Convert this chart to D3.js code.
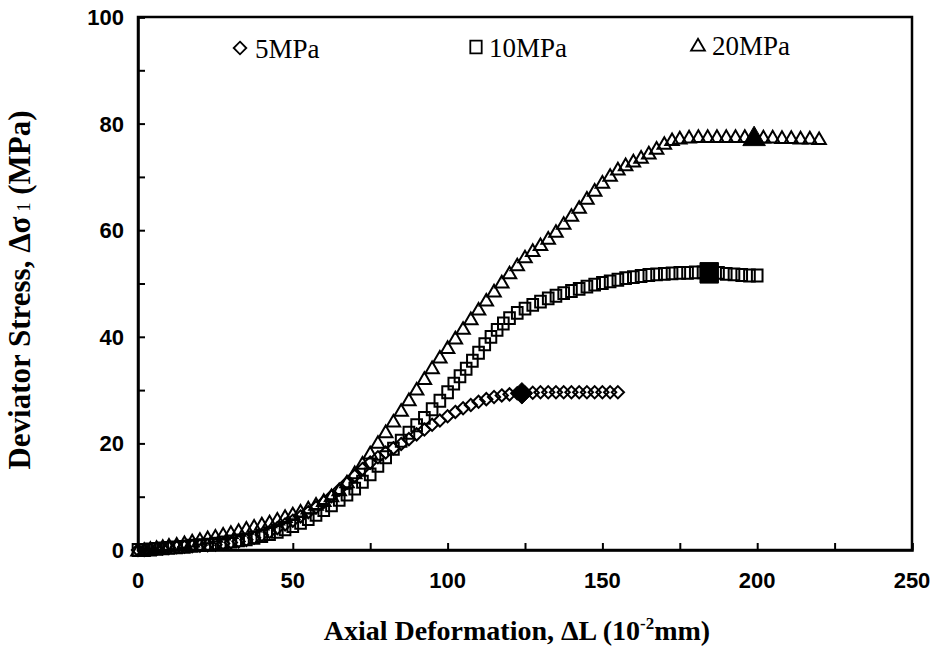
<!DOCTYPE html>
<html>
<head>
<meta charset="utf-8">
<script src="https://cdn.jsdelivr.net/npm/d3@7/dist/d3.min.js"></script>
<style>
  html, body { margin: 0; padding: 0; background: #fff; }
  svg { display: block; }
</style>
</head>
<body>
<svg id="chart" width="945" height="650"></svg>
<script>
// ---------------- data ----------------
const seriesNames = ["5MPa", "10MPa", "20MPa"];

// 5 MPa confining pressure: [axial deformation (1e-2 mm), deviator stress (MPa)]
const data5 = [
  [0,0],[2,0],[4,0.1],[6,0.2],[8,0.3],[10,0.4],[12.5,0.5],[15,0.6],[17.5,0.7],[20,0.8],
  [22.5,0.9],[25,1.0],[27.5,1.2],[30,1.4],[32.5,1.6],[35,1.9],[37.5,2.3],[40,2.8],[42.5,3.4],[45,4.1],
  [47.5,4.8],[50,5.5],[52.5,6.3],[55,7.1],[57.5,8.0],[60,9.0],[62.5,10.1],[65,11.3],[67.5,12.6],[70,13.9],
  [72.5,15.2],[75,16.4],[77.5,17.4],[80,18.3],[82.5,19.1],[85,19.9],[87.5,20.8],[90,21.7],[92.5,22.6],[95,23.5],
  [97.5,24.3],[100,25.1],[102.5,25.9],[105,26.6],[107.5,27.2],[110,27.8],[112.5,28.3],[115,28.7],[117.5,29.0],[120,29.2],
  [122.5,29.4],[125,29.5],[127.5,29.5],[130,29.6],[132.5,29.6],[135,29.6],[137.5,29.6],[140,29.6],[142.5,29.6],[145,29.6],
  [147.5,29.6],[150,29.6],[152.5,29.6],[155,29.6]
];
// 10 MPa
const data10 = [
  [0,0],[2,0],[4,0.1],[6,0.2],[8,0.3],[10,0.4],[12.5,0.5],[15,0.6],[17.5,0.8],[20,0.9],
  [22.5,1.0],[25,1.2],[27.5,1.4],[30,1.6],[32.5,1.8],[35,2.0],[37.5,2.3],[40,2.6],[42.5,3.0],[45,3.4],
  [47.5,3.9],[50,4.5],[52.5,5.1],[55,5.8],[57.5,6.6],[60,7.5],[62.5,8.4],[65,9.4],[67.5,10.4],[70,11.5],
  [72.5,12.8],[75,14.2],[77.5,15.8],[80,17.4],[82.5,19.0],[85,20.5],[87.5,22.0],[90,23.4],[92.5,24.8],[95,26.4],
  [97.5,28.0],[100,29.6],[102,31.2],[104,32.6],[106,34.0],[108,35.5],[110,37.0],[112,38.6],[114,40.0],[116,41.3],
  [118,42.5],[120,43.5],[122.5,44.5],[125,45.3],[127.5,46.0],[130,46.6],[132.5,47.2],[135,47.7],[137.5,48.2],[140,48.6],
  [142.5,49.0],[145,49.4],[147.5,49.8],[150,50.1],[152.5,50.4],[155,50.7],[157.5,51.0],[160,51.2],[162.5,51.4],[165,51.6],
  [167.5,51.7],[170,51.8],[172.5,51.9],[175,52.0],[177.5,52.0],[180,52.1],[182.5,52.1],[185,52.1],[187.5,52.0],[190,51.8],
  [192.5,51.7],[195,51.6],[197.5,51.5],[200,51.5]
];
// 20 MPa
const data20 = [
  [0,0],[2,0.1],[4,0.3],[6,0.5],[8,0.7],[10,0.9],[12.5,1.1],[15,1.4],[17.5,1.7],[20,2.0],
  [22.5,2.3],[25,2.6],[27.5,3.0],[30,3.3],[32.5,3.7],[35,4.1],[37.5,4.5],[40,4.9],[42.5,5.3],[45,5.8],
  [47.5,6.3],[50,6.8],[52.5,7.3],[55,7.9],[57.5,8.6],[60,9.3],[62.5,10.2],[65,11.3],[67.5,12.8],[70,14.5],
  [72.5,16.3],[75,18.2],[77.5,20.2],[80,22.2],[82.5,24.2],[85,26.2],[87.5,28.2],[90,30.2],[92.5,32.2],[95,34.2],
  [97.5,36.2],[100,38.0],[102.5,39.8],[105,41.6],[107.5,43.4],[110,45.2],[112.5,46.9],[115,48.6],[117.5,50.3],[120,52.0],
  [122.5,53.5],[125,55.0],[127.5,56.2],[130,57.3],[132.5,58.5],[135,59.8],[137.5,61.3],[140,62.8],[142.5,64.3],[145,66.0],
  [147.5,67.5],[150,69.0],[152.5,70.3],[155,71.5],[157.5,72.3],[160,73.0],[162.5,73.7],[165,74.5],[167.5,75.4],[170,76.3],
  [172.5,77.0],[175,77.3],[178,77.5],[181,77.6],[184,77.6],[187,77.6],[190,77.6],[193,77.6],[196,77.6],[202,77.5],
  [205,77.5],[208,77.4],[211,77.4],[214,77.3],[217,77.3],[220,77.2]
];
// peak (filled) markers
const peak5 = [124, 29.4];
const peak10 = [184.5, 52.0];
const peak20 = [199, 77.6];

const xTicks = [0, 50, 100, 150, 200, 250];
const yTicks = [0, 20, 40, 60, 80, 100];
const xMinorTicks = [0, 25, 50, 75, 100, 125, 150, 175, 200, 225, 250];
const yMinorTicks = [0, 10, 20, 30, 40, 50, 60, 70, 80, 90, 100];

// ---------------- layout ----------------
const svg = d3.select("#chart");
const L = 138, R = 912, T = 17, B = 550;
const x = d3.scaleLinear().domain([0, 250]).range([L, R]);
const y = d3.scaleLinear().domain([0, 100]).range([B, T]);

// custom symbols
const diamondType = { draw(ctx, size) { const r = Math.sqrt(size) / 2; ctx.moveTo(0, -r); ctx.lineTo(r, 0); ctx.lineTo(0, r); ctx.lineTo(-r, 0); ctx.closePath(); } };
const squareType = { draw(ctx, size) { const s = Math.sqrt(size) / 2; ctx.rect(-s * 0.9, -s, 2 * s * 0.9, 2 * s); } };
const triangleType = { draw(ctx, size) { const s = Math.sqrt(size) / 2; ctx.moveTo(0, -s); ctx.lineTo(s * 1.1, s * 0.9); ctx.lineTo(-s * 1.1, s * 0.9); ctx.closePath(); } };

const sym = (type, size) => d3.symbol().type(type).size(size)();

// frame
svg.append("rect").attr("x", L).attr("y", T).attr("width", R - L).attr("height", B - T)
  .attr("fill", "none").attr("stroke", "#000").attr("stroke-width", 2.5);

// axes (ticks pointing inward)
const xAxis = d3.axisBottom(x).tickValues(xMinorTicks).tickSize(-7).tickFormat("");
const yAxis = d3.axisLeft(y).tickValues(yMinorTicks).tickSize(-7).tickFormat("");
const gx = svg.append("g").attr("transform", `translate(0,${B})`).call(xAxis);
const gy = svg.append("g").attr("transform", `translate(${L},0)`).call(yAxis);
[gx, gy].forEach(g => {
  g.select(".domain").attr("stroke", "#000").attr("stroke-width", 2.5);
  g.selectAll(".tick line").attr("stroke", "#000").attr("stroke-width", 2);
});

// tick labels
svg.append("g").selectAll("text").data(xTicks).join("text")
  .attr("x", d => x(d)).attr("y", 588)
  .attr("text-anchor", "middle")
  .attr("font-family", "Liberation Sans, Arial, sans-serif").attr("font-size", 22).attr("font-weight", "bold")
  .text(d => d);
svg.append("g").selectAll("text").data(yTicks).join("text")
  .attr("x", 124).attr("y", d => y(d) + 8)
  .attr("text-anchor", "end")
  .attr("font-family", "Liberation Sans, Arial, sans-serif").attr("font-size", 22).attr("font-weight", "bold")
  .text(d => d);

// axis titles
const xt = svg.append("text").attr("x", 517).attr("y", 640).attr("text-anchor", "middle")
  .attr("font-family", "Liberation Serif, Times New Roman, serif").attr("font-size", 28).attr("font-weight", "bold");
xt.append("tspan").text("Axial Deformation, ΔL (10");
xt.append("tspan").attr("font-size", 17).attr("dy", -11).text("-2");
xt.append("tspan").attr("dy", 11).text("mm)");

const yt = svg.append("text").attr("transform", "translate(30,290) rotate(-90)").attr("text-anchor", "middle")
  .attr("font-family", "Liberation Serif, Times New Roman, serif").attr("font-size", 31).attr("font-weight", "bold");
yt.append("tspan").text("Deviator Stress, Δσ");
yt.append("tspan").attr("font-size", 18).attr("font-weight", "normal").attr("dx", 5).text("1");
yt.append("tspan").text(" (MPa)");

// series
const series = [
  { name: seriesNames[0], data: data5, type: diamondType, size: 150, peak: peak5, peakSize: 460 },
  { name: seriesNames[1], data: data10, type: squareType, size: 140, peak: peak10, peakSize: 420 },
  { name: seriesNames[2], data: data20, type: triangleType, size: 150, peak: peak20, peakSize: 420 }
];
series.forEach(s => {
  const g = svg.append("g");
  g.selectAll("path").data(s.data).join("path")
    .attr("transform", d => `translate(${x(d[0])},${y(d[1])})`)
    .attr("d", sym(s.type, s.size))
    .attr("fill", "none").attr("stroke", "#000").attr("stroke-width", 2);
  g.append("path")
    .attr("transform", `translate(${x(s.peak[0])},${y(s.peak[1])})`)
    .attr("d", sym(s.type, s.peakSize))
    .attr("fill", "#000").attr("stroke", "#000").attr("stroke-width", 1);
});

// legend
const legendPos = [[240, 48, 255], [476, 47, 489], [698, 45, 712]];
series.forEach((s, i) => {
  const [mx, my, tx] = legendPos[i];
  svg.append("path").attr("transform", `translate(${mx},${my})`)
    .attr("d", sym(s.type, 160)).attr("fill", "none").attr("stroke", "#000").attr("stroke-width", 1.8);
  svg.append("text").attr("x", tx).attr("y", my + 10)
    .attr("font-family", "Liberation Serif, Times New Roman, serif").attr("font-size", 27)
    .text(s.name);
});
</script>
</body>
</html>
